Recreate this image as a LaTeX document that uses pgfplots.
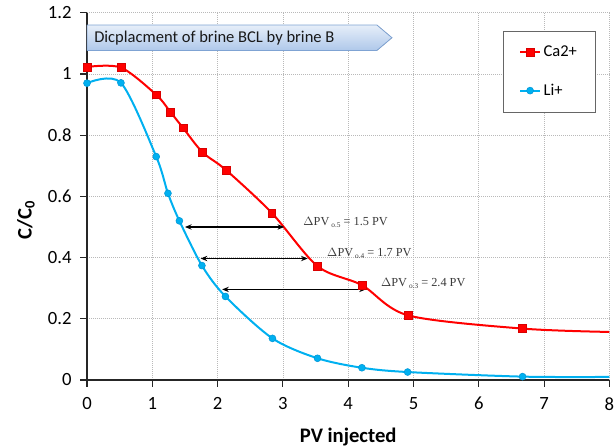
\documentclass[border=0pt]{standalone}
\usepackage{pgfplots}
\pgfplotsset{compat=1.18}
\usepackage{fontspec}
\setmainfont{Carlito}
\newfontfamily\timesfont{Liberation Serif}
\usetikzlibrary{arrows.meta}

\definecolor{caRed}{HTML}{FF0000}
\definecolor{liBlue}{HTML}{00B0F0}
\definecolor{liBlueEdge}{HTML}{0096D6}
\definecolor{boxTop}{HTML}{E6EEF9}
\definecolor{boxBot}{HTML}{AFC8EA}
\definecolor{boxEdge}{HTML}{7FA3D3}
\definecolor{noteGray}{HTML}{3A3A3A}

\pgfplotstableread{
x     y
0     1.023
0.52  1.021
1.06  0.932
1.28  0.875
1.47  0.824
1.77  0.744
2.13  0.686
2.83  0.546
3.53  0.372
4.21  0.310
4.92  0.211
6.67  0.168
8.00  0.157
}\caData

\pgfplotstableread{
x     y
0     0.970
0.52  0.971
1.06  0.730
1.24  0.610
1.415 0.520
1.76  0.374
2.12  0.273
2.84  0.136
3.53  0.071
4.21  0.040
4.91  0.026
6.67  0.011
8.00  0.010
}\liData

\newcommand{\dpv}[2]{$\Delta$PV\,\raisebox{-0.35ex}{\fontsize{5.5}{6}\selectfont #1}\ = #2 PV}

\begin{document}
\begin{tikzpicture}
\path[use as bounding box] (-65.25pt,-51pt) rectangle (395.25pt,285pt);
\begin{axis}[
  scale only axis,
  width=391.8pt, height=275.4pt,
  xmin=0, xmax=8, ymin=0, ymax=1.2,
  xtick={0,1,...,8},
  ytick={0,0.2,0.4,0.6,0.8,1.0,1.2},
  /pgf/number format/assume math mode=true,
  ticklabel style={font=\fontsize{14}{16}\selectfont, text=black},
  xticklabel style={yshift=-4.5pt},
  yticklabel style={xshift=-3pt},
  axis x line*=bottom, axis y line*=left,
  axis line style={black!85, line width=0.8pt, -},
  tick align=outside, major tick length=5pt,
  tick style={black!85, line width=0.8pt},
  grid=major,
  major grid style={gray!55, line width=0.5pt, densely dotted},
  xlabel={\bfseries PV injected},
  ylabel={\bfseries C/C\textsubscript{0}},
  label style={font=\fontsize{15.5}{18}\selectfont},
  xlabel style={at={(axis description cs:0.5,-0.155)}, anchor=center},
  ylabel style={at={(axis description cs:-0.117,0.435)}, anchor=center},
  legend style={at={(rel axis cs:0.796,0.951)}, anchor=north west,
    draw=black!60, line width=0.6pt, fill=white,
    inner xsep=12pt, inner ysep=9pt, row sep=15pt,
    font=\fontsize{12.4}{14}\selectfont},
  legend cell align=left,
  legend image code/.code={
    \draw[mark indices={2}] plot coordinates {(0cm,0cm) (0.26cm,0cm) (0.52cm,0cm)};
  },
]
\addplot[caRed, line width=1.5pt, smooth, tension=0.5,
  mark=square*, mark size=2.9pt, mark indices={1,...,12},
  mark options={fill=caRed, draw=caRed!85!black, line width=0.4pt}]
  table[x=x, y=y] {\caData};
\addlegendentry{Ca2+}
\addplot[liBlue, line width=1.5pt, smooth, tension=0.5,
  mark=*, mark size=2.6pt, mark indices={1,...,12},
  mark options={fill=liBlue, draw=liBlueEdge, line width=0.4pt}]
  table[x=x, y=y] {\liData};
\addlegendentry{Li+}

% breakthrough-spacing arrows between the two curves
\draw[{Stealth[length=5pt,width=4pt]}-{Stealth[length=5pt,width=4pt]}, line width=0.9pt, black]
  (axis cs:1.50,0.500) -- (axis cs:3.02,0.500);
\draw[{Stealth[length=5pt,width=4pt]}-{Stealth[length=5pt,width=4pt]}, line width=0.9pt, black]
  (axis cs:1.74,0.397) -- (axis cs:3.38,0.397);
\draw[{Stealth[length=5pt,width=4pt]}-{Stealth[length=5pt,width=4pt]}, line width=0.9pt, black]
  (axis cs:2.07,0.296) -- (axis cs:4.27,0.296);

\node[anchor=west, inner sep=0pt, text=noteGray, font=\timesfont\fontsize{9.2}{11}\selectfont]
  at (axis cs:3.31,0.516) {\dpv{o.5}{1.5}};
\node[anchor=west, inner sep=0pt, text=noteGray, font=\timesfont\fontsize{9.2}{11}\selectfont]
  at (axis cs:3.675,0.415) {\dpv{o.4}{1.7}};
\node[anchor=west, inner sep=0pt, text=noteGray, font=\timesfont\fontsize{9.2}{11}\selectfont]
  at (axis cs:4.50,0.317) {\dpv{o.3}{2.4}};

% chevron-shaped caption banner
\fill[top color=boxTop, bottom color=boxBot, draw=boxEdge, line width=0.6pt]
  (axis cs:0.0,1.077) -- (axis cs:4.44,1.077) -- (axis cs:4.67,1.1185)
  -- (axis cs:4.44,1.160) -- (axis cs:0.0,1.160) -- cycle;
\node[anchor=west, inner sep=0pt, text=black!90, font=\fontsize{12.4}{14}\selectfont]
  at (axis cs:0.107,1.118) {Dicplacment of brine BCL by brine B};
\end{axis}
\end{tikzpicture}
\end{document}
